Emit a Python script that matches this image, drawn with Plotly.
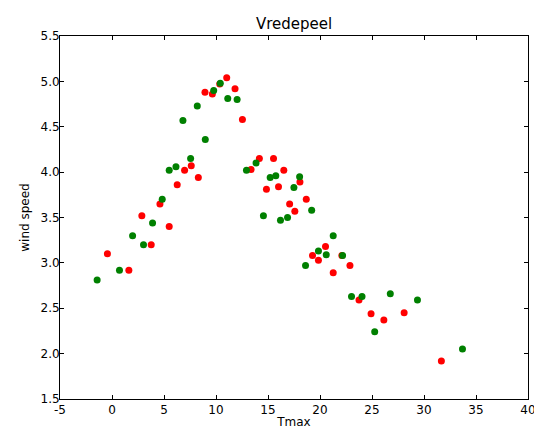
import plotly.graph_objects as go

# Red series
red_tmax = [-0.44, 1.62, 2.87, 3.77, 4.61, 5.50, 6.27, 6.98, 7.62, 8.30, 8.94, 9.65,
            10.36, 11.03, 11.83, 12.54, 13.37, 14.17, 14.85, 15.53, 16.01, 16.52, 17.08,
            17.58, 18.07, 18.68, 19.28, 19.85, 20.53, 21.27, 22.10, 22.88, 23.75, 24.91,
            26.14, 28.09, 31.67]
red_wind = [3.10, 2.92, 3.52, 3.20, 3.65, 3.40, 3.86, 4.02, 4.07, 3.94, 4.88, 4.86,
            4.97, 5.04, 4.92, 4.58, 4.03, 4.15, 3.81, 4.15, 3.84, 4.02, 3.65,
            3.57, 3.89, 3.70, 3.08, 3.03, 3.18, 2.89, 3.08, 2.97, 2.59, 2.44,
            2.37, 2.45, 1.92]

# Green series
green_tmax = [-1.43, 0.72, 1.98, 3.03, 3.90, 4.83, 5.50, 6.15, 6.82, 7.56, 8.20, 8.97,
              9.78, 10.41, 11.13, 12.03, 12.93, 13.85, 14.56, 15.21, 15.75, 16.20, 16.88,
              17.49, 18.04, 18.61, 19.20, 19.85, 20.60, 21.27, 22.17, 23.03, 24.04, 25.26,
              26.76, 29.37, 33.70]
green_wind = [2.81, 2.92, 3.30, 3.20, 3.44, 3.70, 4.02, 4.06, 4.57, 4.15, 4.73, 4.36,
              4.90, 4.98, 4.81, 4.80, 4.02, 4.10, 3.52, 3.94, 3.96, 3.47, 3.50,
              3.83, 3.95, 2.97, 3.58, 3.13, 3.09, 3.30, 3.08, 2.63, 2.63, 2.24,
              2.66, 2.59, 2.05]

x_ticks = [-5, 0, 5, 10, 15, 20, 25, 30, 35, 40]
y_ticks = [1.5, 2.0, 2.5, 3.0, 3.5, 4.0, 4.5, 5.0, 5.5]

fig = go.Figure()
fig.add_trace(go.Scatter(x=red_tmax, y=red_wind, mode="markers",
                         marker=dict(color="#ff0000", size=7, line=dict(width=0)),
                         showlegend=False))
fig.add_trace(go.Scatter(x=green_tmax, y=green_wind, mode="markers",
                         marker=dict(color="#008000", size=7, line=dict(width=0)),
                         showlegend=False))

font = dict(family="DejaVu Sans", size=12, color="black")
axis_common = dict(showgrid=False, zeroline=False, showline=True, linecolor="black",
                   linewidth=1, mirror="ticks", ticks="inside", ticklen=4,
                   tickcolor="black", tickfont=font, automargin=False)

W, H = 534, 431
L, R, T, B = 52, 14, 28, 40

fig.update_layout(
    width=W, height=H,
    margin=dict(l=L, r=R, t=T, b=B, autoexpand=False),
    paper_bgcolor="white", plot_bgcolor="white",
    font=font,
    title=dict(text="Vredepeel", x=(L + (W - L - R) / 2) / W, xanchor="center",
               y=1 - 16/H, yanchor="middle", yref="container",
               font=dict(family="DejaVu Sans", size=15, color="black")),
    xaxis=dict(range=[-5, 40], tickvals=x_ticks, ticktext=[str(v) for v in x_ticks],
               title=dict(text="Tmax", standoff=1, font=font), **axis_common),
    yaxis=dict(range=[1.5, 5.5], tickvals=y_ticks, ticktext=[f"{v:.1f}" for v in y_ticks],
               ticklabelstandoff=-3,
               title=dict(text="wind speed", standoff=8, font=font), **axis_common),
)

fig.write_html("out.html")
